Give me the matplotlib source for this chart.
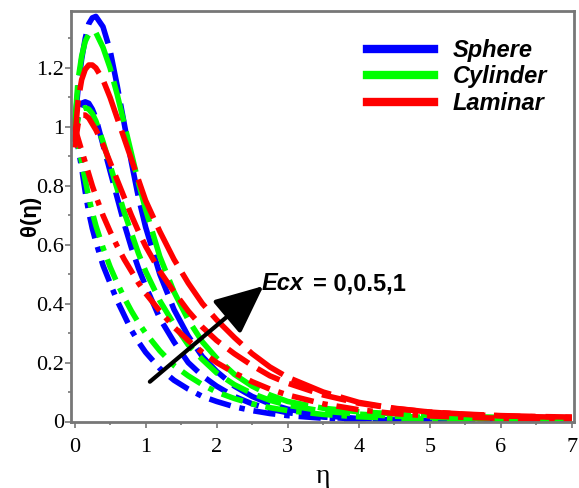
import matplotlib
matplotlib.use('Agg')
import matplotlib.pyplot as plt
from matplotlib.lines import Line2D
from matplotlib.ticker import MultipleLocator, FuncFormatter

plt.rcParams['font.family'] = ['Liberation Serif', 'DejaVu Serif']

# eta grid shared by all curves
eta = [0, 0.05, 0.1, 0.15, 0.2, 0.25, 0.3, 0.4, 0.5, 0.6, 0.7, 0.8, 0.9, 1.0,
       1.2, 1.4, 1.6, 1.8, 2.0, 2.25, 2.5, 2.75, 3.0, 3.5, 4.0, 4.5, 5.0,
       5.5, 6.0, 6.5, 7.0]

# Sphere (blue)
sphere_ecx0 = [1.0, 0.93, 0.86, 0.78, 0.71, 0.655, 0.61, 0.53, 0.47, 0.41, 0.36,
               0.31, 0.27, 0.235, 0.18, 0.14, 0.11, 0.085, 0.068, 0.05, 0.037,
               0.027, 0.02, 0.011, 0.006, 0.003, 0.002, 0.001, 0.0005, 0.0, 0.0]
sphere_ecx05 = [0.95, 1.04, 1.08, 1.085, 1.08, 1.06, 1.03, 0.94, 0.85, 0.76, 0.67,
                0.59, 0.52, 0.46, 0.35, 0.27, 0.20, 0.155, 0.12, 0.085, 0.06,
                0.042, 0.03, 0.015, 0.008, 0.004, 0.002, 0.001, 0.001, 0.0005, 0.0]
sphere_ecx1 = [1.0, 1.13, 1.23, 1.30, 1.35, 1.37, 1.375, 1.34, 1.26, 1.14, 1.01,
               0.88, 0.76, 0.66, 0.50, 0.38, 0.29, 0.22, 0.17, 0.12, 0.085,
               0.06, 0.042, 0.02, 0.01, 0.005, 0.003, 0.002, 0.001, 0.0005, 0.0]

# Cylinder (green)
cylinder_ecx0 = [1.0, 0.94, 0.88, 0.82, 0.76, 0.71, 0.665, 0.59, 0.525, 0.47, 0.42,
                 0.375, 0.335, 0.30, 0.24, 0.19, 0.155, 0.125, 0.10, 0.078, 0.06,
                 0.047, 0.037, 0.024, 0.016, 0.011, 0.008, 0.006, 0.005, 0.004, 0.003]
cylinder_ecx05 = [0.95, 1.03, 1.06, 1.065, 1.06, 1.045, 1.02, 0.95, 0.87, 0.79, 0.71,
                  0.64, 0.57, 0.51, 0.41, 0.33, 0.26, 0.21, 0.165, 0.125, 0.095,
                  0.072, 0.055, 0.035, 0.025, 0.018, 0.014, 0.011, 0.009, 0.007, 0.006]
cylinder_ecx1 = [1.0, 1.16, 1.24, 1.29, 1.315, 1.325, 1.32, 1.27, 1.20, 1.11, 1.01,
                 0.91, 0.81, 0.72, 0.56, 0.44, 0.345, 0.27, 0.215, 0.16, 0.12,
                 0.09, 0.068, 0.045, 0.033, 0.026, 0.021, 0.017, 0.014, 0.012, 0.01]

# Laminar (red)
laminar_ecx0 = [1.0, 0.96, 0.92, 0.88, 0.84, 0.80, 0.765, 0.70, 0.645, 0.595, 0.55,
                0.51, 0.47, 0.435, 0.375, 0.32, 0.275, 0.235, 0.20, 0.165, 0.135,
                0.11, 0.09, 0.06, 0.04, 0.027, 0.019, 0.014, 0.011, 0.009, 0.008]
laminar_ecx05 = [0.93, 1.01, 1.04, 1.04, 1.03, 1.01, 0.99, 0.94, 0.88, 0.82, 0.76,
                 0.70, 0.645, 0.595, 0.51, 0.44, 0.375, 0.32, 0.275, 0.23, 0.19,
                 0.155, 0.13, 0.09, 0.062, 0.044, 0.032, 0.024, 0.019, 0.016, 0.014]
laminar_ecx1 = [0.95, 1.09, 1.16, 1.195, 1.21, 1.21, 1.20, 1.16, 1.10, 1.03, 0.96,
                0.89, 0.82, 0.75, 0.645, 0.55, 0.47, 0.40, 0.345, 0.285, 0.23,
                0.185, 0.15, 0.10, 0.065, 0.045, 0.032, 0.025, 0.02, 0.017, 0.015]

names = ['Sphere', 'Cylinder', 'Laminar']
colors = ['#0000ff', '#00ff00', '#ff0000']
groups = [[sphere_ecx0, sphere_ecx05, sphere_ecx1],
          [cylinder_ecx0, cylinder_ecx05, cylinder_ecx1],
          [laminar_ecx0, laminar_ecx05, laminar_ecx1]]
# Ecx = 0 -> dash-dot, 0.5 -> dash, 1 -> long dash
dash_styles = [(4, 1.6, 1, 1.6), (4.5, 1.8), (7.5, 1.8)]

fig = plt.figure(figsize=(5.79, 4.88), dpi=100)
ax = fig.add_axes([71 / 579, 1 - 421.5 / 488, 503 / 579, 411 / 488])

for col, grp in zip(colors, groups):
    for ys, ds in zip(grp, dash_styles):
        ax.plot(eta, ys, color=col, lw=4, dashes=ds, dash_capstyle='butt')

ax.set_xlim(-0.05, 7.03)
ax.set_ylim(0, 1.395)
ax.xaxis.set_major_locator(MultipleLocator(1))
ax.xaxis.set_minor_locator(MultipleLocator(0.5))
ax.yaxis.set_major_locator(MultipleLocator(0.2))
ax.yaxis.set_minor_locator(MultipleLocator(0.1))
ax.yaxis.set_major_formatter(FuncFormatter(lambda v, p: '%g' % round(v, 2)))

for s in ax.spines.values():
    s.set_color('#777777')
    s.set_linewidth(2)
ax.tick_params(which='both', direction='out', color='#777777', width=1.2,
               labelsize=16)
ax.tick_params(which='major', length=4)
ax.tick_params(which='minor', length=2.5)
ax.tick_params(axis='x', which='major', pad=8)
ax.tick_params(axis='y', which='major', pad=1)
for lab in ax.get_xticklabels() + ax.get_yticklabels():
    lab.set_fontfamily(['Liberation Serif', 'DejaVu Serif'])

ax.set_xlabel('η', fontsize=20, labelpad=5)
ax.set_ylabel('θ(η)', fontfamily='Liberation Sans', fontweight='bold', fontsize=16)
ax.yaxis.set_label_coords(-0.06, 0.5)

handles = [Line2D([], [], color=c, lw=6) for c in colors]
ax.legend(handles, names, loc='upper left', bbox_to_anchor=(355 / 579, 1 - 27 / 488),
          bbox_transform=fig.transFigure, frameon=False, borderpad=0,
          handlelength=2.85, handletextpad=0.8, labelspacing=0.15,
          prop={'family': 'Liberation Sans', 'weight': 'bold', 'style': 'italic', 'size': 17})

ax.annotate('', xy=(2.66, 0.46), xytext=(1.06, 0.135),
            arrowprops=dict(arrowstyle='-|>,head_length=1.0,head_width=0.45',
                            mutation_scale=30, lw=3, color='k',
                            shrinkA=0, shrinkB=0))
fig.text(262 / 579, 1 - 284 / 488, 'Ecx', fontfamily='Liberation Sans',
         fontweight='bold', fontstyle='italic', fontsize=17, va='center')
fig.text(313 / 579, 1 - 284 / 488, '= 0,0.5,1', fontfamily='Liberation Sans',
         fontweight='bold', fontsize=17, va='center')

fig.savefig('out.png', dpi=100)
